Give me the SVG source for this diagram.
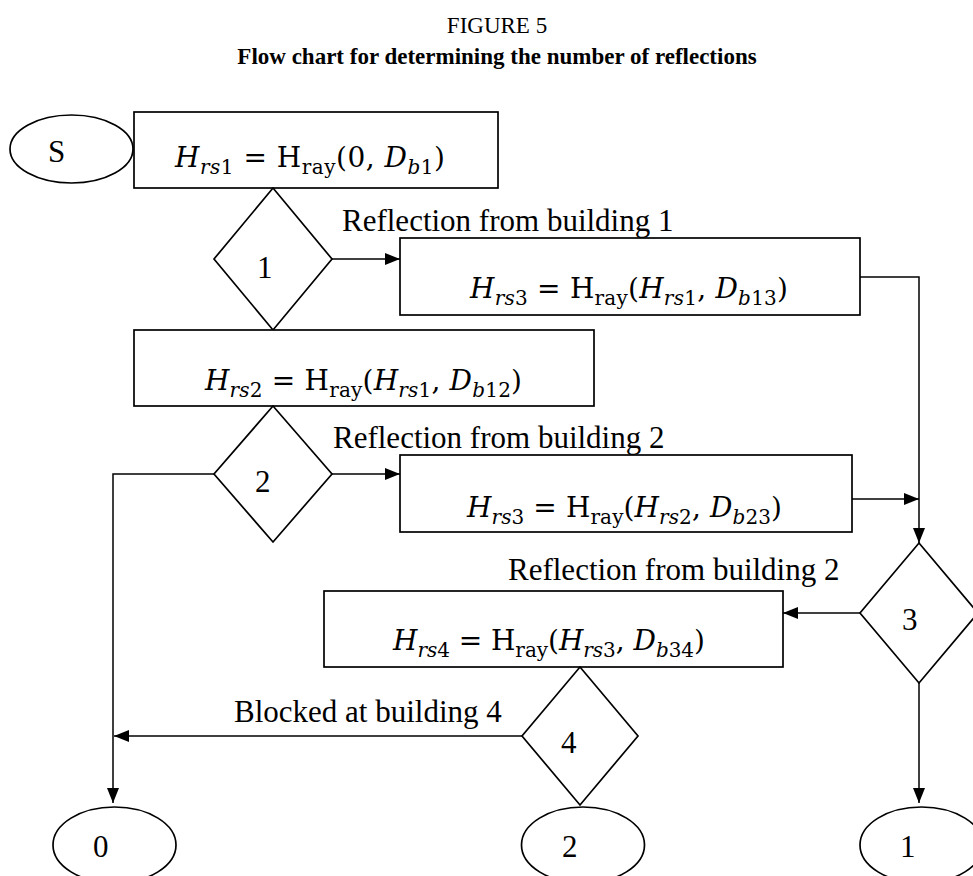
<svg xmlns="http://www.w3.org/2000/svg" width="973" height="876" viewBox="0 0 973 876">
  <defs>
    <marker id="arrow" viewBox="0 0 15 12" refX="15" refY="6" markerWidth="15" markerHeight="12" markerUnits="userSpaceOnUse" orient="auto">
      <path d="M0,0 L15,6 L0,12 z" fill="#000"/>
    </marker>
    <style>
      .shape { fill: #fff; stroke: #000; stroke-width: 1.7; }
      .wire { fill: none; stroke: #000; stroke-width: 1.5; marker-end: url(#arrow); }
      text { font-family: "Liberation Serif", "Times New Roman", serif; fill: #000; }
      .lbl { font-size: 31px; }
      .title { font-size: 23px; text-anchor: middle; }
      .bold { font-weight: bold; }
      .math { font-family: "DejaVu Serif", "Liberation Serif", serif; font-size: 28px; }
      .it { font-style: italic; }
      .sub { font-size: 20px; }
    </style>
  </defs>

  <rect width="973" height="876" fill="#fff"/>

  <!-- heading -->
  <text class="title" x="497" y="33">FIGURE 5</text>
  <text class="title bold" x="497" y="64">Flow chart for determining the number of reflections</text>

  <!-- connectors -->
  <g id="connectors">
    <path class="wire" d="M332,259 H400"/>
    <path class="wire" d="M860,277 H919 V543"/>
    <path class="wire" d="M332,474 H400"/>
    <path class="wire" d="M852,499 H919"/>
    <path class="wire" d="M214,474 H113 V803"/>
    <path class="wire" d="M860,613 H783"/>
    <path class="wire" d="M919,683 V803"/>
    <path class="wire" d="M522,736 H114"/>
  </g>

  <!-- edge labels -->
  <g id="edge-labels">
    <text class="lbl" x="342" y="231">Reflection from building 1</text>
    <text class="lbl" x="333" y="448">Reflection from building 2</text>
    <text class="lbl" x="508" y="580">Reflection from building 2</text>
    <text class="lbl" x="234" y="722">Blocked at building 4</text>
  </g>

  <!-- start terminal -->
  <g id="start">
    <ellipse class="shape" cx="71.5" cy="149" rx="61.5" ry="34"/>
    <text class="lbl" x="48" y="162">S</text>
  </g>

  <!-- Hrs1 -->
  <g id="box-hrs1">
    <rect class="shape" x="134" y="112" width="364" height="76"/>
    <text class="math" x="175" y="167" textLength="270" lengthAdjust="spacing"><tspan class="it">H</tspan><tspan class="sub it" dy="7">rs</tspan><tspan class="sub">1</tspan><tspan dy="-7"> = H</tspan><tspan class="sub" dy="7">ray</tspan><tspan dy="-7">(0, </tspan><tspan class="it">D</tspan><tspan class="sub it" dy="7">b</tspan><tspan class="sub">1</tspan><tspan dy="-7">)</tspan></text>
  </g>

  <!-- decision 1 -->
  <g id="decision-1">
    <polygon class="shape" points="273,188 332,259 273,330 214,259"/>
    <text class="lbl" x="257" y="278">1</text>
  </g>

  <!-- Hrs3 from building 1 -->
  <g id="box-hrs3-a">
    <rect class="shape" x="400" y="238" width="460" height="77"/>
    <text class="math" x="470" y="298" textLength="318" lengthAdjust="spacing"><tspan class="it">H</tspan><tspan class="sub it" dy="7">rs</tspan><tspan class="sub">3</tspan><tspan dy="-7"> = H</tspan><tspan class="sub" dy="7">ray</tspan><tspan dy="-7">(</tspan><tspan class="it">H</tspan><tspan class="sub it" dy="7">rs</tspan><tspan class="sub">1</tspan><tspan dy="-7">, </tspan><tspan class="it">D</tspan><tspan class="sub it" dy="7">b</tspan><tspan class="sub">13</tspan><tspan dy="-7">)</tspan></text>
  </g>

  <!-- Hrs2 -->
  <g id="box-hrs2">
    <rect class="shape" x="134" y="330" width="460" height="76"/>
    <text class="math" x="205" y="390" textLength="317" lengthAdjust="spacing"><tspan class="it">H</tspan><tspan class="sub it" dy="7">rs</tspan><tspan class="sub">2</tspan><tspan dy="-7"> = H</tspan><tspan class="sub" dy="7">ray</tspan><tspan dy="-7">(</tspan><tspan class="it">H</tspan><tspan class="sub it" dy="7">rs</tspan><tspan class="sub">1</tspan><tspan dy="-7">, </tspan><tspan class="it">D</tspan><tspan class="sub it" dy="7">b</tspan><tspan class="sub">12</tspan><tspan dy="-7">)</tspan></text>
  </g>

  <!-- decision 2 -->
  <g id="decision-2">
    <polygon class="shape" points="273,406 332,474 273,542 214,474"/>
    <text class="lbl" x="255" y="492">2</text>
  </g>

  <!-- Hrs3 from building 2 -->
  <g id="box-hrs3-b">
    <rect class="shape" x="400" y="455" width="452" height="77"/>
    <text class="math" x="467" y="517" textLength="315" lengthAdjust="spacing"><tspan class="it">H</tspan><tspan class="sub it" dy="7">rs</tspan><tspan class="sub">3</tspan><tspan dy="-7"> = H</tspan><tspan class="sub" dy="7">ray</tspan><tspan dy="-7">(</tspan><tspan class="it">H</tspan><tspan class="sub it" dy="7">rs</tspan><tspan class="sub">2</tspan><tspan dy="-7">, </tspan><tspan class="it">D</tspan><tspan class="sub it" dy="7">b</tspan><tspan class="sub">23</tspan><tspan dy="-7">)</tspan></text>
  </g>

  <!-- decision 3 -->
  <g id="decision-3">
    <polygon class="shape" points="919,543 978,613 919,683 860,613"/>
    <text class="lbl" x="902" y="630">3</text>
  </g>

  <!-- Hrs4 -->
  <g id="box-hrs4">
    <rect class="shape" x="324" y="591" width="459" height="76"/>
    <text class="math" x="393" y="650" textLength="312" lengthAdjust="spacing"><tspan class="it">H</tspan><tspan class="sub it" dy="7">rs</tspan><tspan class="sub">4</tspan><tspan dy="-7"> = H</tspan><tspan class="sub" dy="7">ray</tspan><tspan dy="-7">(</tspan><tspan class="it">H</tspan><tspan class="sub it" dy="7">rs</tspan><tspan class="sub">3</tspan><tspan dy="-7">, </tspan><tspan class="it">D</tspan><tspan class="sub it" dy="7">b</tspan><tspan class="sub">34</tspan><tspan dy="-7">)</tspan></text>
  </g>

  <!-- decision 4 -->
  <g id="decision-4">
    <polygon class="shape" points="580,667 638,736 580,805 522,736"/>
    <text class="lbl" x="561" y="753">4</text>
  </g>

  <!-- end terminals -->
  <g id="end-0">
    <ellipse class="shape" cx="114.5" cy="845" rx="61.5" ry="38"/>
    <text class="lbl" x="93" y="857">0</text>
  </g>
  <g id="end-2">
    <ellipse class="shape" cx="583" cy="845" rx="61.5" ry="38"/>
    <text class="lbl" x="562" y="857">2</text>
  </g>
  <g id="end-1">
    <ellipse class="shape" cx="921.5" cy="845" rx="61.5" ry="38"/>
    <text class="lbl" x="900" y="857">1</text>
  </g>
</svg>
